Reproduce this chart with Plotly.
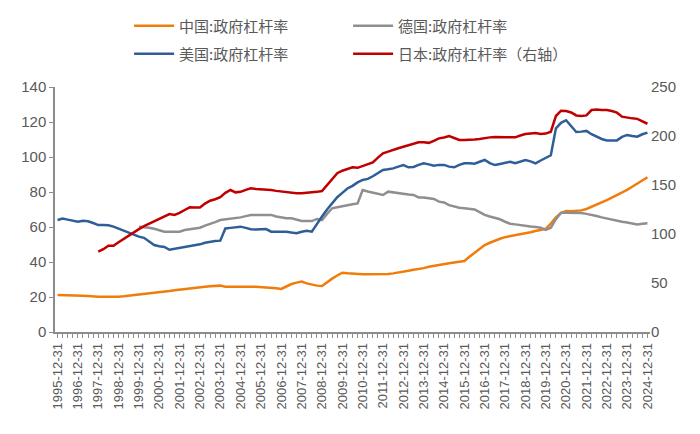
import pandas as pd
import plotly.graph_objects as go

# 季度日期 1995-12-31 ~ 2024-12-31
dates = pd.date_range("1995-12-31", "2024-12-31", freq="QE").strftime("%Y-%m-%d").tolist()
year_ticks = [d for d in dates if d.endswith("12-31")]

# 中国:政府杠杆率 (左轴)
china = [21.1,
         21.1, 21.0, 21.0, 20.9,
         20.7, 20.6, 20.3, 20.2,
         20.2, 20.1, 20.1, 20.2,
         20.4, 20.7, 21.0, 21.4,
         21.8, 22.1, 22.4, 22.7,
         23.0, 23.4, 23.8, 24.2,
         24.6, 25.0, 25.2, 25.5,
         25.8, 26.1, 26.4, 26.5,
         25.9, 25.8, 25.8, 25.8,
         25.8, 25.8, 25.8, 25.7,
         25.6, 25.3, 25.0, 24.6,
         26.2, 27.4, 28.2, 28.8,
         27.8, 27.0, 26.5, 26.3,
         28.5, 30.5, 32.3, 33.9,
         33.6, 33.3, 33.1, 33.0,
         33.0, 33.0, 33.0, 33.0,
         33.2, 33.5, 33.9, 34.5,
         35.0, 35.6, 36.0, 36.5,
         37.3, 37.9, 38.4, 38.8,
         39.3, 39.7, 40.1, 40.6,
         43.0, 45.3, 47.6, 49.7,
         51.0, 52.3, 53.3, 54.2,
         54.7, 55.2, 55.8, 56.4,
         57.0, 57.7, 58.3, 59.0,
         62.0, 65.5, 68.0, 69.1,
         69.0, 69.1, 69.5, 70.3,
         71.5, 72.8, 74.0, 75.4,
         76.8, 78.2, 79.8, 81.2,
         83.0, 84.8, 86.6, 88.4]

# 德国:政府杠杆率 (左轴), 1999-12-31 起
germany = [None,
           None, None, None, None,
           None, None, None, None,
           None, None, None, None,
           None, None, None, 60.2,
           60.0, 59.6, 59.0, 58.0,
           57.3, 57.3, 57.3, 57.3,
           58.3, 58.8, 59.2, 59.6,
           60.8, 61.7, 62.8, 64.0,
           64.3, 64.6, 65.0, 65.5,
           66.2, 66.9, 66.9, 66.9,
           66.9, 66.9, 66.0, 65.3,
           65.0, 65.0, 64.2, 63.4,
           63.4, 63.4, 64.6, 64.0,
           67.5, 70.7, 71.3, 72.0,
           72.4, 73.0, 73.5, 81.1,
           80.3, 79.6, 79.0, 78.3,
           80.2, 79.7, 79.2, 79.0,
           78.6, 78.3, 76.9, 76.9,
           76.3, 76.0, 74.5, 74.0,
           72.5, 71.6, 71.0, 70.7,
           70.5, 70.0, 68.5, 66.9,
           66.0, 65.3, 64.4, 63.0,
           61.9, 61.5, 61.0, 60.6,
           60.3, 60.0, 59.6, 58.3,
           59.6, 64.5, 68.2, 68.2,
           68.2, 68.2, 68.0, 67.5,
           67.0, 66.3, 65.5, 64.8,
           64.2, 63.6, 63.0, 62.6,
           62.0, 61.5, 61.8, 62.1]

# 美国:政府杠杆率 (左轴)
usa = [64.0,
       64.8, 64.2, 63.4, 63.0,
       63.6, 63.3, 62.3, 61.1,
       61.2, 61.0, 60.2, 59.0,
       57.8, 57.0, 55.5, 54.5,
       53.8, 51.5, 49.7, 49.0,
       48.6, 47.0, 47.5, 48.0,
       48.4, 48.8, 49.5, 50.1,
       51.0, 51.6, 52.0, 52.2,
       59.2, 59.5, 59.8, 60.2,
       59.5, 58.7, 58.6, 58.8,
       58.8, 57.3, 57.3, 57.3,
       57.3, 56.8, 56.4, 57.3,
       57.9, 57.3, 62.0, 66.0,
       70.0, 73.5, 77.0, 79.5,
       82.0, 83.5, 85.5, 86.9,
       87.5, 89.0, 91.0, 92.6,
       93.0, 93.5, 94.5, 95.4,
       94.1, 94.3, 95.5, 96.4,
       95.8, 95.0, 95.5, 95.5,
       94.5, 94.1, 95.5, 96.4,
       96.4, 96.2, 97.3, 98.3,
       96.5, 95.4, 96.0, 96.8,
       97.3, 96.4, 97.3, 98.3,
       97.5, 96.4, 98.0, 99.5,
       101.0, 116.4, 119.5, 121.0,
       117.5, 114.3, 114.5, 114.9,
       113.0, 111.6, 110.3, 109.5,
       109.3, 109.5, 111.5, 112.6,
       112.0, 111.6, 113.0, 113.9]

# 日本:政府杠杆率 (右轴), 1997-12-31 起
japan = [None,
         None, None, None, None,
         None, None, None, 81.9,
         84.5, 88.0, 88.0, 91.5,
         95.0, 98.0, 101.5, 105.0,
         108.0, 110.5, 113.0, 115.0,
         117.5, 120.4, 119.5, 121.5,
         124.5, 127.2, 127.0, 127.0,
         131.0, 134.0, 135.5, 137.5,
         142.0, 144.9, 142.5, 143.0,
         145.0, 146.6, 146.0, 145.6,
         145.6, 145.0, 144.0, 143.2,
         142.8, 142.0, 141.5, 141.5,
         141.8, 142.1, 143.0, 143.9,
         150.0, 156.8, 162.0, 164.6,
         166.5, 168.0, 167.5, 169.4,
         170.5, 173.0, 178.0, 182.3,
         184.0, 186.0, 187.5, 189.0,
         190.5, 192.0, 193.5, 193.5,
         193.0, 195.0, 197.6, 198.5,
         200.0, 198.0, 196.0, 195.9,
         196.0, 196.5, 197.0, 198.0,
         198.6, 199.0, 198.6, 198.6,
         198.6, 198.6, 200.5, 202.0,
         202.5, 203.0, 202.0, 202.5,
         204.4, 220.4, 225.8, 225.5,
         224.0, 221.0, 220.4, 221.0,
         226.5, 227.0, 226.5, 226.5,
         225.5, 223.8, 219.7, 218.5,
         218.0, 217.5, 215.0, 212.5]

grey_txt = "#595959"
axis_col = "#8c8c8c"
cjk = "Noto Sans CJK SC"

fig = go.Figure()
fig.add_trace(go.Scatter(x=dates, y=china, name="中国:政府杠杆率", mode="lines",
                         line=dict(color="#F07C0A", width=2.5), legend="legend"))
fig.add_trace(go.Scatter(x=dates, y=germany, name="德国:政府杠杆率", mode="lines",
                         line=dict(color="#8F8F8F", width=2.5), legend="legend"))
fig.add_trace(go.Scatter(x=dates, y=usa, name="美国:政府杠杆率", mode="lines",
                         line=dict(color="#2E5D98", width=2.5), legend="legend2"))
fig.add_trace(go.Scatter(x=dates, y=japan, name="日本:政府杠杆率（右轴）", mode="lines",
                         line=dict(color="#C00000", width=2.5), legend="legend2", yaxis="y2"))

legend_style = dict(orientation="h", xanchor="left", yanchor="middle",
                    xref="container", yref="container",
                    entrywidth=164, entrywidthmode="pixels",
                    font=dict(family=cjk, size=15, color=grey_txt),
                    bgcolor="rgba(0,0,0,0)", itemwidth=40, tracegroupgap=0)

fig.update_layout(
    width=692, height=426,
    margin=dict(l=47, r=50, t=79, b=102),
    plot_bgcolor="white", paper_bgcolor="white",
    showlegend=True,
    legend=dict(x=0.175, y=0.958, **legend_style),
    legend2=dict(x=0.175, y=0.892, **legend_style),
    xaxis=dict(type="category", tickmode="array", tickvals=dates,
               ticktext=[d if d in year_ticks else "" for d in dates],
               tickangle=-90, range=[-0.5, len(dates) - 0.5], automargin=False,
               ticks="outside", ticklen=4, tickcolor=axis_col, tickwidth=1,
               showline=True, linecolor=axis_col, linewidth=1.5, showgrid=False,
               tickfont=dict(family="Liberation Sans", size=13, color=grey_txt)),
    yaxis=dict(range=[0, 140], dtick=20, showgrid=False, zeroline=False, automargin=False,
               showline=True, linecolor=axis_col, linewidth=1.5,
               ticks="outside", ticklen=4, tickcolor=axis_col,
               tickfont=dict(family="Liberation Sans", size=15, color=grey_txt)),
    yaxis2=dict(range=[0, 250], dtick=50, overlaying="y", side="right", automargin=False,
                showgrid=False, zeroline=False, showline=False,
                tickfont=dict(family="Liberation Sans", size=15, color=grey_txt)),
)

fig.write_html("out.html")
